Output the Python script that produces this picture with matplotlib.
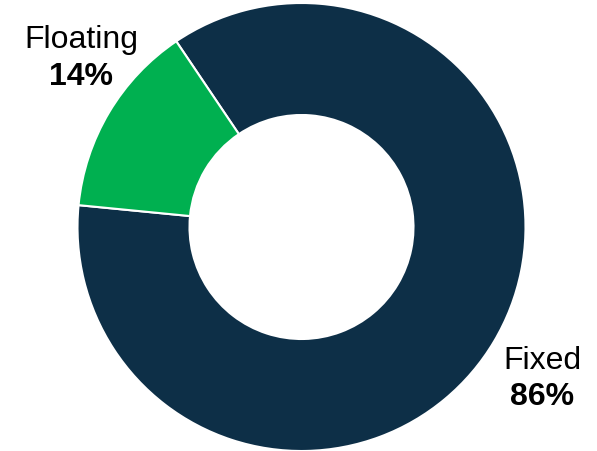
import matplotlib
matplotlib.use("Agg")
import matplotlib.pyplot as plt

labels = ["Fixed", "Floating"]
shares = [86, 14]
colors = ["#0d2f47", "#00b050"]

plt.rcParams["font.family"] = ["Liberation Sans", "DejaVu Sans"]

W, H = 597, 452
cx, cy, R = 301.5, 228, 224  # donut centre / radius in pixels

fig = plt.figure(figsize=(W / 100, H / 100), dpi=100)
ax = fig.add_axes([0, 0, 1, 1])
wedges, _ = ax.pie(shares, colors=colors, startangle=124, counterclock=False,
                   radius=1, wedgeprops=dict(width=0.5, edgecolor="white", linewidth=1.5))
ax.set_aspect("auto")
ax.set_xlim(-cx / R, (W - cx) / R)
ax.set_ylim(-(H - cy) / R, cy / R)
ax.axis("off")

# label positions in pixels (name line, value line)
label_pos = {"Fixed": (542, 361, 397), "Floating": (81, 40, 77)}
for lab, val in zip(labels, shares):
    px, py1, py2 = label_pos[lab]
    x = (px - cx) / R
    ax.text(x, (cy - py1) / R, lab, ha="center", va="center", fontsize=23)
    ax.text(x, (cy - py2) / R, f"{val}%", ha="center", va="center",
            fontsize=23, fontweight="bold")

fig.savefig("out.png", dpi=100)
